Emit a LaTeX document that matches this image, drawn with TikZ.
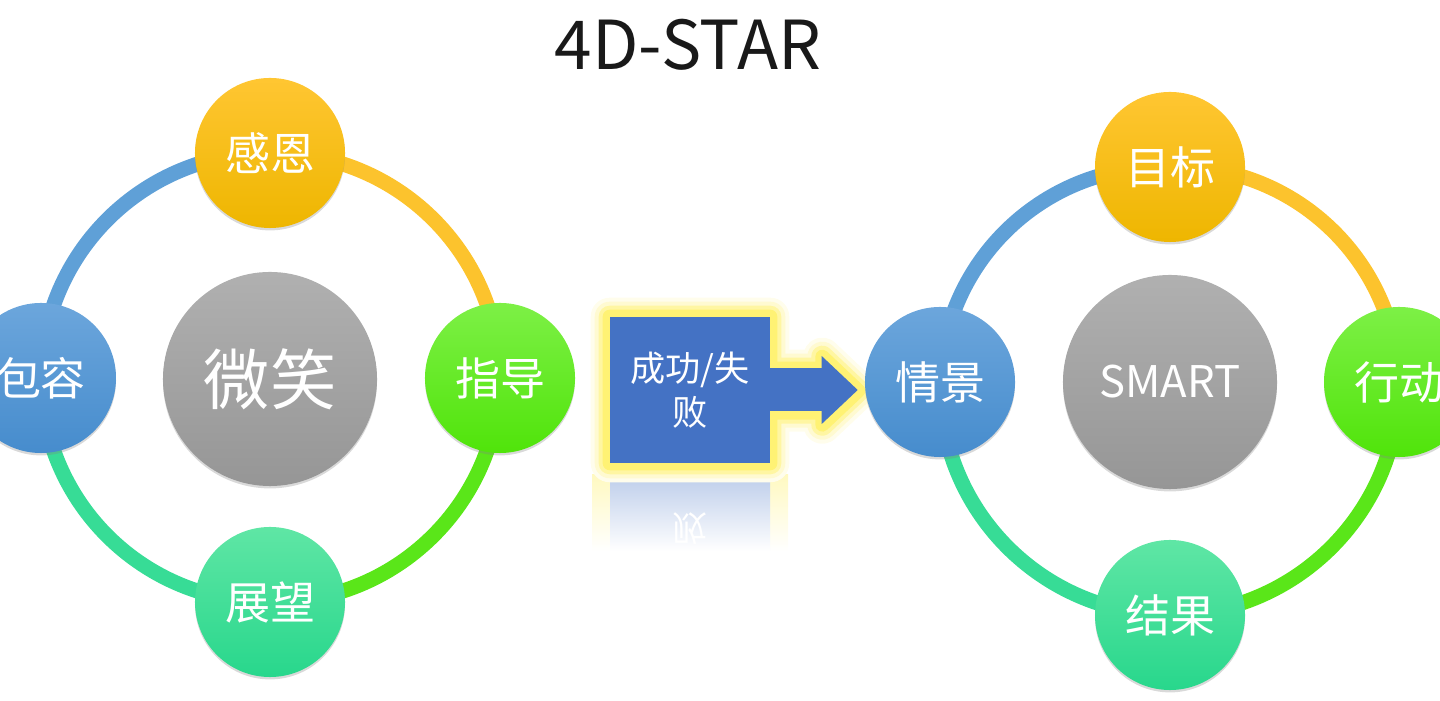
\documentclass[tikz,border=0pt]{standalone}
\usepackage{fontspec}
\newfontfamily\cjk{Noto Sans CJK SC}
\usetikzlibrary{arrows.meta, shadows, backgrounds}

\definecolor{ytop}{RGB}{255,198,50}
\definecolor{ybot}{RGB}{238,182,0}
\definecolor{gtop}{RGB}{125,240,70}
\definecolor{gbot}{RGB}{80,228,10}
\definecolor{btop}{RGB}{108,166,220}
\definecolor{bbot}{RGB}{70,140,205}
\definecolor{ttop}{RGB}{95,230,165}
\definecolor{tbot}{RGB}{40,215,140}
\definecolor{hubtop}{RGB}{176,176,176}
\definecolor{hubbot}{RGB}{150,150,150}
\definecolor{ringB}{RGB}{95,160,215}
\definecolor{ringY}{RGB}{252,195,45}
\definecolor{ringG}{RGB}{90,230,25}
\definecolor{ringT}{RGB}{55,220,150}
\definecolor{boxblue}{RGB}{68,114,196}
\definecolor{glow}{RGB}{255,240,100}

\begin{document}
\begin{tikzpicture}[
    x=0.025cm, y=0.025cm,
    ball/.style={circle, minimum size=3.75cm, inner sep=0pt, text=white, font=\cjk\fontsize{32}{38}\selectfont, drop shadow={shadow xshift=0pt, shadow yshift=-0.06cm, opacity=0.3}},
    yball/.style={ball, top color=ytop, bottom color=ybot},
    gball/.style={ball, top color=gtop, bottom color=gbot},
    bball/.style={ball, top color=btop, bottom color=bbot},
    tball/.style={ball, top color=ttop, bottom color=tbot},
    hub/.style={ball, minimum size=5.35cm, top color=hubtop, bottom color=hubbot},
    ring/.style={line width=0.375cm},
    callbox/.style={rectangle, fill=boxblue, minimum width=4cm, minimum height=3.65cm, inner sep=0pt, text=white, align=center, font=\cjk\fontsize{25}{31}\selectfont},
    flow/.style={line width=1.075cm, draw=boxblue, -{Triangle[width=1.7cm, length=0.9cm, line width=0pt]}, shorten >=0.175cm},
    title/.style={font=\cjk\fontsize{48}{56}\selectfont, text=black!90}
]
\useasboundingbox (0,0) rectangle (1440,701);

\node[title] (ttl) at (688,656) {4D-STAR};

% ==========================================
% LEFT: smile ring
% ==========================================
\node[hub, font=\cjk\fontsize{47}{54}\selectfont] (wei) at (270,322) {微笑};
\node[yball] (gan) at (270,548) {感恩};
\node[gball] (zhi) at (500,323) {指导};
\node[tball] (zhan) at (270,99) {展望};
\node[bball] (bao) at (41,323) {包容};

% ==========================================
% RIGHT: STAR ring
% ==========================================
\node[hub, font=\cjk\fontsize{31}{36}\selectfont] (smart) at (1170,319) {SMART};
\node[yball] (mu) at (1170,534) {目标};
\node[gball] (xing) at (1399,319) {行动};
\node[tball] (jie) at (1170,86) {结果};
\node[bball] (qing) at (940,319) {情景};

% ==========================================
% MIDDLE: callout
% ==========================================
\node[callbox] (cb) at (690,311) {成功/失\\败};
\draw[flow] (cb.east) -- (cb.east -| qing.west);

\begin{scope}[on background layer]
% reflection
\shade[top color=glow!40, bottom color=white] (592,226) rectangle (788,150);
\shade[top color=boxblue!32, bottom color=white] (610,219) rectangle (770,150);
\node[text=white, font=\cjk\fontsize{25}{31}\selectfont] (cbr) at (690,172) {\scalebox{1}[-1]{败}};

% glow
\foreach \w/\c in {38/12,30/30,22/60,14/90}
  \draw[line width=\w*0.025cm, draw=glow!\c, line join=round]
    (cb.north west) -- (cb.north east) -- ++(0,-52) -- ++(52,0) -- ++(0,12)
    -- ++(36,-34) -- ++(-36,-34) -- ++(0,12) -- ++(-52,0) |- (cb.south west) -- cycle;

% rings
\draw[ring, ringB] (bao.center) to[bend left=45] (gan.center);
\draw[ring, ringY] (gan.center) to[bend left=45] (zhi.center);
\draw[ring, ringG] (zhi.center) to[bend left=45] (zhan.center);
\draw[ring, ringT] (zhan.center) to[bend left=45] (bao.center);

\draw[ring, ringB] (qing.center) to[bend left=45] (mu.center);
\draw[ring, ringY] (mu.center) to[bend left=45] (xing.center);
\draw[ring, ringG] (xing.center) to[bend left=45] (jie.center);
\draw[ring, ringT] (jie.center) to[bend left=45] (qing.center);
\end{scope}

\end{tikzpicture}
\end{document}
